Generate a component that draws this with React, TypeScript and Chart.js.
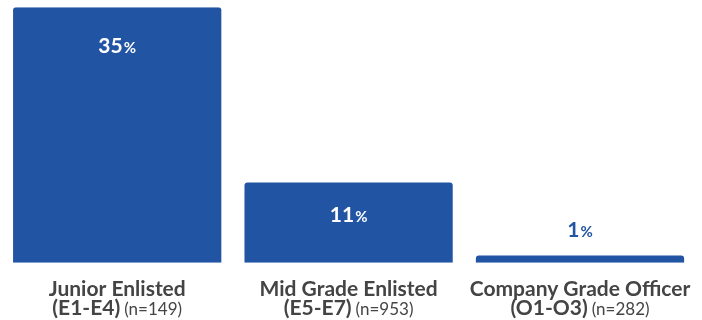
import React, { useEffect, useRef } from "react";
import { Chart, registerables } from "chart.js";

Chart.register(...registerables);

const categories = ["Junior Enlisted", "Mid Grade Enlisted", "Company Grade Officer"];
const ranks = ["(E1-E4)", "(E5-E7)", "(O1-O3)"];
const sampleSizes = ["(n=149)", "(n=953)", "(n=282)"];
const values = [35, 11, 1];

const BAR_COLOR = "#2254a4";
const TEXT_COLOR = "#444444";
const FONT = "Lato, 'Open Sans', sans-serif";

const labelsPlugin = {
  id: "customLabels",
  afterDatasetsDraw(chart: any) {
    const ctx = chart.ctx as CanvasRenderingContext2D;
    const meta = chart.getDatasetMeta(0);
    const xScale = chart.scales.x;
    ctx.save();
    ctx.textBaseline = "alphabetic";
    // value labels
    meta.data.forEach((el: any, i: number) => {
      const v = values[i];
      const top = el.y;
      const h = el.base - el.y;
      const num = String(v);
      const pct = "%";
      ctx.font = `bold 21px ${FONT}`;
      const wNum = ctx.measureText(num).width;
      ctx.font = `bold 15px ${FONT}`;
      const wPct = ctx.measureText(pct).width;
      const total = wNum + wPct + 1;
      let baseline: number;
      let color: string;
      if (h > 60) {
        baseline = top + (h > 150 ? 46 : 40);
        color = "#ffffff";
      } else {
        baseline = top - 18;
        color = BAR_COLOR;
      }
      const x0 = el.x - total / 2;
      ctx.fillStyle = color;
      ctx.textAlign = "left";
      ctx.font = `bold 21px ${FONT}`;
      ctx.fillText(num, x0, baseline);
      ctx.font = `bold 15px ${FONT}`;
      ctx.fillText(pct, x0 + wNum + 1, baseline);
    });
    // category labels
    const bottom = chart.chartArea.bottom;
    categories.forEach((cat, i) => {
      const cx = xScale.getPixelForValue(i);
      ctx.fillStyle = TEXT_COLOR;
      ctx.textAlign = "center";
      ctx.font = `bold 21px ${FONT}`;
      ctx.fillText(cat, cx, bottom + 33);
      ctx.textAlign = "left";
      const r = ranks[i];
      const n = sampleSizes[i];
      ctx.font = `bold 21px ${FONT}`;
      const wr = ctx.measureText(r).width;
      ctx.font = `17px ${FONT}`;
      const wn = ctx.measureText(n).width;
      const gap = 4;
      const start = cx - (wr + gap + wn) / 2;
      ctx.font = `bold 21px ${FONT}`;
      ctx.fillText(r, start, bottom + 52);
      ctx.font = `17px ${FONT}`;
      ctx.fillText(n, start + wr + gap, bottom + 52);
    });
    ctx.restore();
  },
};

export default function App() {
  const ref = useRef<HTMLCanvasElement>(null);
  useEffect(() => {
    if (!ref.current) return;
    const chart = new Chart(ref.current, {
      type: "bar",
      data: {
        labels: categories,
        datasets: [
          {
            data: values,
            backgroundColor: BAR_COLOR,
            borderRadius: 3,
            borderSkipped: "start",
            barPercentage: 0.9,
            categoryPercentage: 1,
          },
        ],
      },
      options: {
        responsive: false,
        animation: false,
        layout: { padding: { left: 1.5, right: 6.3, top: 7.3, bottom: 57.3 } },
        plugins: { legend: { display: false }, tooltip: { enabled: false } },
        scales: {
          x: { display: false },
          y: { display: false, min: 0, max: 35 },
        },
      },
      plugins: [labelsPlugin],
    });
    return () => chart.destroy();
  }, []);
  return (
    <div style={{ position: "absolute", left: 0, top: 0, width: 702, height: 320 }}>
      <canvas ref={ref} width={702} height={320} />
    </div>
  );
}
